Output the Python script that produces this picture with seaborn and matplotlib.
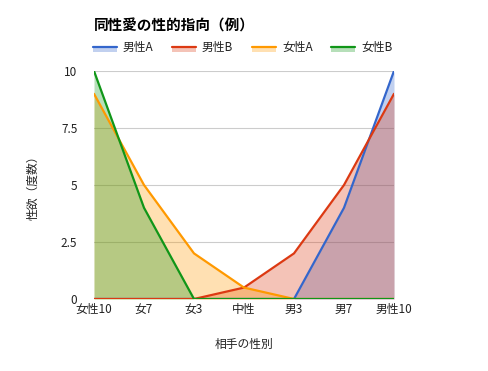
import matplotlib
matplotlib.use("Agg")
import matplotlib.pyplot as plt
import seaborn as sns
import pandas as pd
from matplotlib.patches import Rectangle
from matplotlib.lines import Line2D

# === DATA ===
categories = ["女性10", "女7", "女3", "中性", "男3", "男7", "男性10"]
male_a = [0, 0, 0, 0, 0, 4, 10]
male_b = [0, 0, 0, 0.5, 2, 5, 9]
female_a = [9, 5, 2, 0.5, 0, 0, 0]
female_b = [10, 4, 0, 0, 0, 0, 0]
series_names = ["男性A", "男性B", "女性A", "女性B"]
colors = ["#3366cc", "#dc3912", "#ff9900", "#109618"]
y_ticks = [0, 2.5, 5, 7.5, 10]
y_tick_labels = ["0", "2.5", "5", "7.5", "10"]

sns.set_style("white")
plt.rcParams['font.family'] = ['Noto Sans CJK JP', 'DejaVu Sans']

df = pd.DataFrame({"cat": categories, "男性A": male_a, "男性B": male_b,
                   "女性A": female_a, "女性B": female_b})
long = df.melt(id_vars="cat", var_name="series", value_name="value")

fig = plt.figure(figsize=(4.88, 3.71), dpi=100)
ax = fig.add_axes([94 / 488, 1 - 299 / 371, 300 / 488, 228 / 371])

xs = list(range(len(categories)))
for name, c in zip(series_names, colors):
    ax.fill_between(xs, df[name], 0, color=c, alpha=0.3, linewidth=0, zorder=2)

sns.lineplot(data=long, x="cat", y="value", hue="series", hue_order=series_names,
             palette=colors, sort=False, linewidth=1.6, legend=False, ax=ax, zorder=3)

ax.set_xlim(0, len(categories) - 1)
ax.set_ylim(0, 10)
ax.set_yticks(y_ticks)
ax.set_yticklabels(y_tick_labels)
ax.set_xticks(xs)
ax.set_xticklabels(categories)
ax.grid(axis="y", color="#cccccc", linewidth=0.8, zorder=0)
ax.set_axisbelow(True)
for s in ax.spines.values():
    s.set_visible(False)
ax.tick_params(axis="both", length=0, labelsize=8.5, colors="#222222", pad=3)
ax.tick_params(axis="y", pad=12)

ax.set_xlabel("相手の性別", fontsize=8.5, style="italic", color="#222222", labelpad=16)
ax.set_ylabel("性欲（度数）", fontsize=8.5, style="italic", color="#222222", labelpad=15)

fig.text(94 / 488, 1 - 26 / 371, "同性愛の性的指向（例）", fontsize=10.5, fontweight="bold",
         va="center", ha="left", color="#000000")

# legend
leg_x = [93, 172, 252, 331]
for lx, name, c in zip(leg_x, series_names, colors):
    fig.add_artist(Rectangle((lx / 488, 1 - 52 / 371), 24 / 488, 5 / 371,
                             transform=fig.transFigure, color=c, alpha=0.3, linewidth=0))
    fig.add_artist(Line2D([lx / 488, (lx + 24) / 488], [1 - 47 / 371, 1 - 47 / 371],
                          transform=fig.transFigure, color=c, linewidth=1.6))
    fig.text((lx + 30) / 488, 1 - 47 / 371, name, fontsize=8.5, va="center", ha="left",
             color="#222222")

fig.savefig("out.png", dpi=100)
